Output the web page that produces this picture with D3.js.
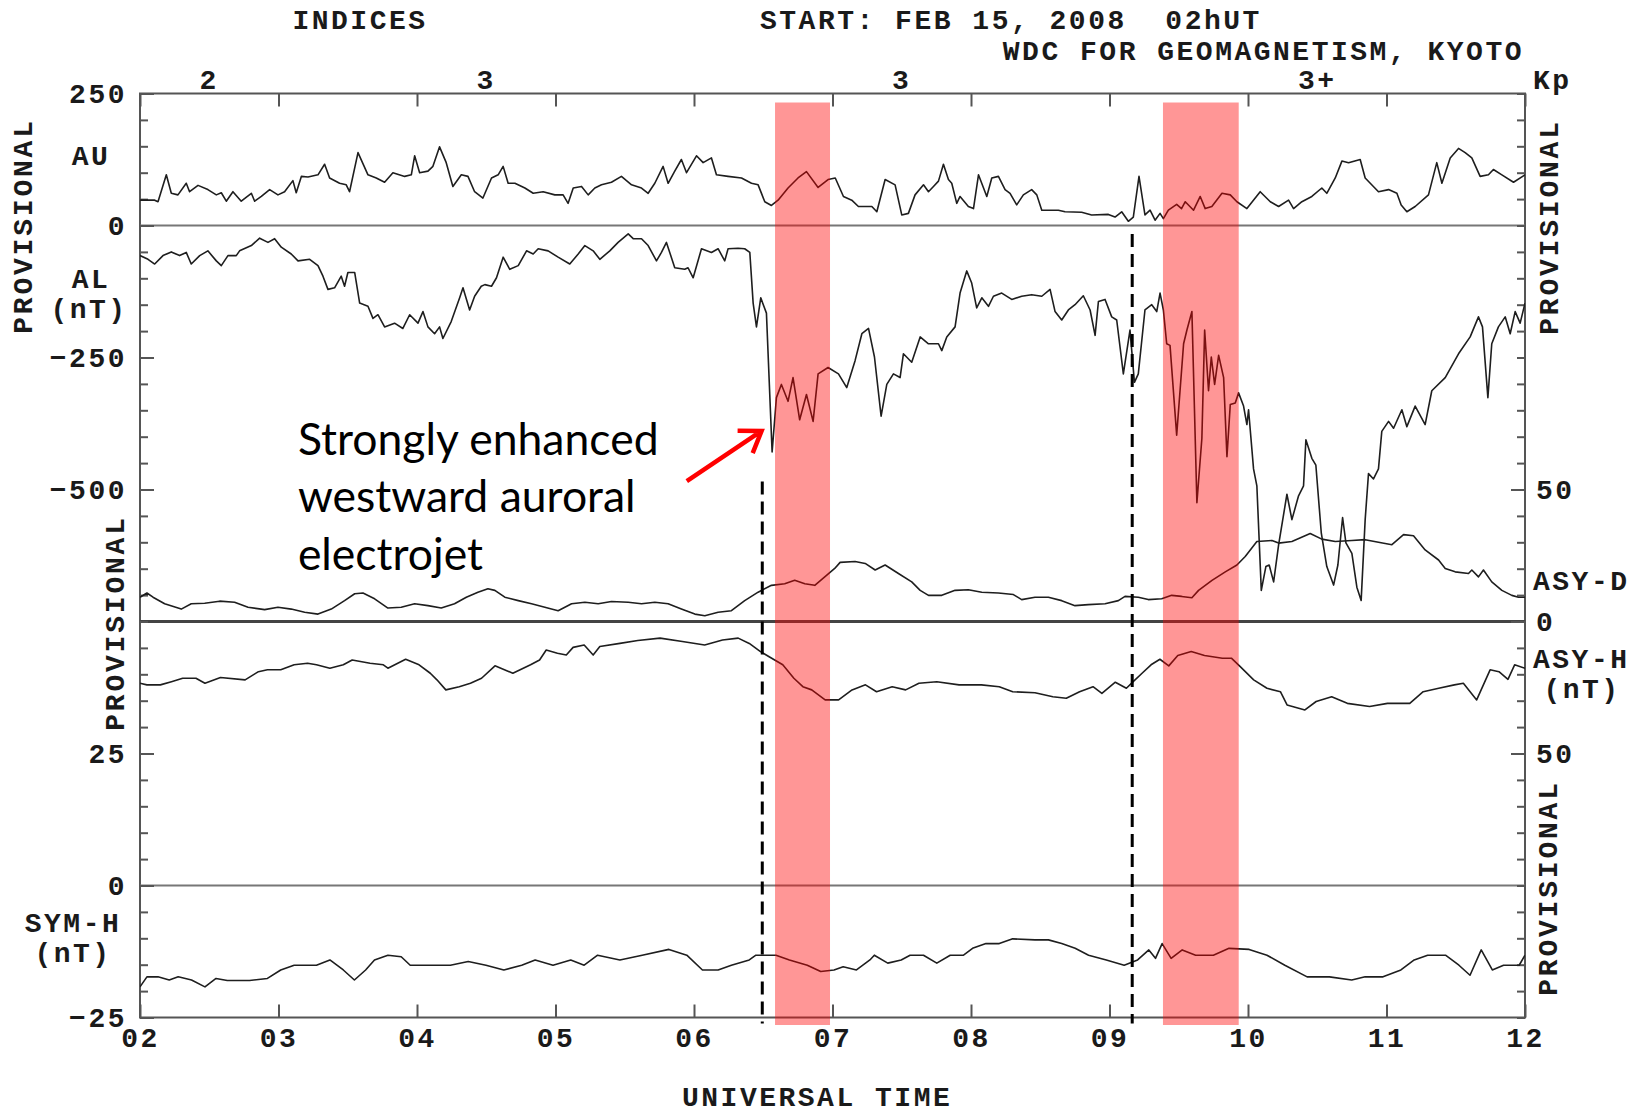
<!DOCTYPE html>
<html>
<head>
<meta charset="utf-8">
<script src="https://cdn.jsdelivr.net/npm/d3@7"></script>
<style>
  html, body { margin: 0; padding: 0; background: #fff; }
  svg { display: block; }
</style>
</head>
<body>
<svg id="chart"></svg>
<script>
// hours UT on the x axis, Kp per 3-hour interval
const HOURS = d3.range(2, 13);
const KP = [
  { from: 0, to: 3, label: '2' },
  { from: 3, to: 6, label: '3' },
  { from: 6, to: 9, label: '3' },
  { from: 9, to: 12, label: '3+' },
];

// [hour, nT]
const AU = [[2.0,48],[2.106,48],[2.13,45],[2.19,96],[2.226,61],[2.274,58],[2.334,80],[2.358,64],[2.419,76],[2.49,68],[2.551,58],[2.587,62],[2.623,46],[2.671,64],[2.731,46],[2.804,61],[2.828,46],[2.876,55],[2.936,68],[2.996,58],[3.044,64],[3.104,85],[3.128,62],[3.165,93],[3.213,92],[3.285,96],[3.333,116],[3.369,90],[3.441,80],[3.489,77],[3.513,64],[3.574,138],[3.646,96],[3.706,90],[3.766,82],[3.826,100],[3.911,93],[3.959,96],[3.983,132],[4.019,100],[4.079,103],[4.115,112],[4.163,149],[4.211,119],[4.259,74],[4.32,96],[4.368,93],[4.416,64],[4.476,52],
  [4.538,90],[4.586,96],[4.622,112],[4.658,80],[4.707,80],[4.779,71],[4.839,61],[4.911,64],[4.995,58],[5.055,58],[5.091,42],[5.128,71],[5.188,74],[5.236,58],[5.284,71],[5.332,77],[5.404,82],[5.476,93],[5.549,77],[5.621,71],[5.669,61],[5.717,80],[5.777,112],[5.813,80],[5.861,103],[5.909,125],[5.946,100],[6.018,132],[6.066,119],[6.126,128],[6.162,96],[6.246,93],[6.343,90],[6.415,80],[6.463,77],[6.511,45],[6.559,38],[6.607,48],[6.679,71],[6.751,90],[6.812,102],[6.896,72],[6.968,87],
  [7.02,90],[7.079,55],[7.139,48],[7.187,36],[7.284,36],[7.32,26],[7.38,87],[7.452,77],[7.5,20],[7.548,23],[7.596,58],[7.657,77],[7.693,64],[7.729,74],[7.765,84],[7.801,116],[7.837,87],[7.861,80],[7.897,42],[7.921,55],[7.981,36],[8.018,32],[8.054,96],[8.114,55],[8.15,90],[8.198,93],[8.246,68],[8.282,61],[8.33,39],[8.378,58],[8.438,68],[8.475,58],[8.511,29],[8.631,29],[8.679,26],[8.799,25],[8.871,20],[8.992,21],[9.04,16],[9.088,26],[9.136,8],[9.172,16],[9.213,93],[9.256,20],[9.293,29],[9.329,10],[9.365,23],[9.389,13],[9.425,29],[9.485,40],
  [9.52,32],[9.547,45],[9.607,29],[9.655,55],[9.691,32],[9.739,36],[9.812,61],[9.872,58],[9.92,45],[9.992,32],[10.088,64],[10.161,45],[10.221,36],[10.293,48],[10.329,32],[10.389,45],[10.461,55],[10.533,71],[10.569,61],[10.63,90],[10.678,122],[10.726,119],[10.81,125],[10.846,90],[10.942,64],[11.015,68],[11.075,61],[11.106,39],[11.147,26],[11.207,36],[11.303,58],[11.363,119],[11.4,80],[11.46,128],[11.52,146],[11.568,138],[11.616,128],[11.676,93],[11.736,96],[11.772,106],[11.833,96],[11.917,82],[12.0,96]];

const AL = [[2.0,-57],[2.058,-64],[2.106,-73],[2.166,-57],[2.226,-50],[2.286,-57],[2.334,-51],[2.37,-73],[2.431,-57],[2.49,-48],[2.551,-67],[2.587,-76],[2.635,-57],[2.695,-57],[2.719,-48],[2.804,-38],[2.864,-24],[2.924,-32],[2.972,-25],[3.02,-41],[3.092,-54],[3.141,-67],[3.225,-64],[3.285,-76],[3.321,-96],[3.357,-121],[3.405,-118],[3.453,-96],[3.477,-115],[3.501,-89],[3.55,-89],[3.586,-147],[3.646,-153],[3.682,-176],[3.718,-169],[3.766,-192],[3.838,-185],[3.898,-195],[3.947,-169],[4.007,-185],[4.043,-163],[4.079,-192],[4.127,-205],[4.163,-192],[4.187,-214],[4.247,-182],[4.308,-137],[4.332,-118],[4.38,-160],[4.416,-134],[4.464,-115],
  [4.49,-112],[4.538,-115],[4.574,-99],[4.622,-60],[4.67,-83],[4.731,-76],[4.791,-48],[4.839,-54],[4.875,-44],[4.947,-48],[5.019,-60],[5.103,-73],[5.164,-54],[5.212,-38],[5.272,-48],[5.32,-64],[5.392,-48],[5.452,-32],[5.525,-16],[5.561,-25],[5.621,-25],[5.669,-38],[5.729,-67],[5.765,-51],[5.801,-32],[5.861,-80],[5.933,-83],[5.957,-80],[5.994,-99],[6.054,-44],[6.126,-51],[6.174,-44],[6.222,-67],[6.246,-44],[6.318,-43],[6.366,-44],[6.403,-51],[6.427,-147],[6.451,-192],[6.482,-137],[6.523,-166],[6.564,-429],[6.595,-326],[6.631,-301],[6.679,-333],[6.715,-288],[6.763,-368],[6.812,-320],[6.86,-371],[6.896,-281],[6.968,-269],
  [7.043,-281],[7.103,-307],[7.163,-256],[7.212,-205],[7.26,-195],[7.303,-249],[7.351,-361],[7.392,-301],[7.44,-281],[7.488,-288],[7.512,-243],[7.572,-259],[7.633,-211],[7.693,-224],[7.765,-224],[7.789,-237],[7.825,-211],[7.885,-192],[7.921,-128],[7.969,-86],[8.005,-109],[8.041,-156],[8.078,-137],[8.126,-153],[8.162,-134],[8.222,-128],[8.294,-140],[8.366,-134],[8.438,-131],[8.511,-134],[8.571,-121],[8.607,-163],[8.655,-179],[8.703,-160],[8.751,-150],[8.811,-133],[8.86,-160],[8.896,-208],[8.92,-144],[8.968,-140],[9.016,-173],[9.052,-179],[9.1,-281],[9.148,-198],[9.18,-297],[9.208,-281],[9.256,-160],[9.305,-150],[9.341,-163],[9.365,-128],[9.389,-160],[9.413,-224],[9.437,-227],[9.485,-397],
  [9.535,-224],[9.559,-198],[9.595,-163],[9.631,-525],[9.667,-403],[9.687,-198],[9.715,-313],[9.735,-249],[9.759,-301],[9.788,-246],[9.824,-288],[9.848,-438],[9.872,-339],[9.908,-336],[9.932,-317],[9.968,-342],[9.992,-377],[10.004,-349],[10.04,-461],[10.064,-493],[10.096,-691],[10.129,-646],[10.153,-643],[10.185,-675],[10.221,-605],[10.281,-509],[10.317,-557],[10.365,-512],[10.401,-493],[10.418,-406],[10.461,-441],[10.49,-454],[10.529,-582],[10.569,-646],[10.618,-681],[10.649,-643],[10.683,-553],[10.707,-601],[10.75,-621],[10.786,-685],[10.817,-710],[10.846,-557],[10.87,-470],[10.906,-480],[10.942,-461],[10.966,-390],[11.015,-371],[11.051,-384],[11.111,-349],[11.147,-381],[11.207,-342],[11.279,-377],[11.327,-313],[11.424,-288],[11.52,-243],[11.604,-211],[11.664,-173],[11.693,-192],[11.732,-326],[11.76,-224],[11.808,-192],[11.857,-173],[11.893,-205],[11.929,-163],[11.965,-185],[12.0,-147]];

const ASY_D = [[2.0,9.2],[2.05,10.8],[2.094,9.2],[2.178,6.7],[2.298,4.7],[2.37,6.7],[2.467,6.9],[2.575,7.7],[2.683,7.3],[2.78,5.4],[2.9,4.5],[2.996,5.4],[3.092,4.7],[3.189,3.5],[3.285,2.8],[3.381,4.7],[3.477,7.9],[3.55,10.5],[3.61,10.8],[3.694,8.6],[3.79,5.1],[3.886,5.4],[3.983,6.7],[4.079,6.0],[4.175,5.1],[4.271,6.7],[4.356,9.2],[4.44,11.1],[4.512,12.4],
  [4.562,11.8],[4.634,9.2],[4.731,7.9],[4.827,6.7],[4.923,5.4],[5.019,4.1],[5.116,6.7],[5.212,7.3],[5.308,6.7],[5.404,7.6],[5.525,7.3],[5.621,6.7],[5.717,7.3],[5.813,6.7],[5.909,4.7],[6.006,2.8],[6.078,2.2],[6.174,3.5],[6.27,4.1],[6.366,7.9],[6.463,11.1],[6.559,13.7],[6.655,14.3],[6.727,15.6],[6.8,14.3],[6.872,13.7],[6.944,16.9],[7.016,20.1],
  [7.055,22.4],[7.163,22.7],[7.236,22.0],[7.308,19.5],[7.38,21.4],[7.476,18.2],[7.572,15.0],[7.633,11.8],[7.693,9.9],[7.789,9.9],[7.885,11.8],[7.981,12.0],[8.078,11.1],[8.198,10.8],[8.306,10.2],[8.366,8.3],[8.462,9.2],[8.559,9.2],[8.655,7.9],[8.751,6.0],[8.847,6.4],[8.968,6.7],[9.064,7.9],[9.112,9.5],[9.208,9.2],[9.28,8.3],[9.377,8.6],[9.449,9.9],[9.521,9.5],
  [9.595,9.0],[9.643,11.8],[9.74,15.6],[9.836,18.8],[9.92,21.4],[9.98,24.6],[10.064,30.3],[10.173,30.7],[10.221,29.7],[10.317,30.3],[10.449,33.3],[10.533,31.2],[10.63,30.3],[10.75,30.7],[10.846,31.0],[10.942,30.0],[11.039,29.1],[11.123,32.9],[11.195,32.5],[11.279,27.1],[11.376,23.3],[11.424,20.1],[11.496,18.8],[11.592,18.2],[11.616,19.5],[11.664,16.9],[11.7,19.5],[11.76,15.0],[11.833,11.8],[11.905,9.9],[11.953,9.2],[12.0,9.2]];

const ASY_H = [[2.0,76.6],[2.05,76.0],[2.147,76.0],[2.227,77.2],[2.308,78.5],[2.404,78.5],[2.469,76.6],[2.581,78.8],[2.759,77.9],[2.855,81.0],[2.92,81.7],[3.016,81.7],[3.113,83.6],[3.21,84.2],[3.274,83.6],[3.371,82.3],[3.468,83.6],[3.532,85.4],[3.661,84.2],[3.757,83.6],[3.79,82.3],[3.918,85.7],[4.015,83.6],[4.096,80.4],[4.144,77.9],[4.208,74.1],[4.305,75.3],[4.386,76.6],[4.466,78.5],[4.563,83.2],[4.692,80.4],[4.82,83.6],[4.885,85.4],[4.933,89.2],[5.014,88.0],[5.078,87.3],[5.127,90.2],[5.207,91.1],[5.272,87.3],[5.32,90.5],[5.465,91.7],[5.594,92.8],[5.755,93.7],[5.916,92.4],[6.077,91.1],[6.206,93.0],[6.319,93.7],[6.399,91.7],[6.48,88.6],[6.561,86.1],[6.641,83.6],[6.721,78.5],[6.786,75.3],[6.85,74.1],[6.947,70.3],
  [7.044,70.3],[7.141,74.1],[7.238,76.0],[7.318,73.4],[7.431,75.3],[7.528,74.1],[7.624,76.6],[7.753,77.2],[7.914,76.0],[8.075,76.0],[8.204,75.3],[8.301,73.4],[8.462,73.0],[8.591,71.5],[8.688,70.9],[8.784,73.4],[8.881,75.3],[8.945,72.8],[9.042,77.0],[9.122,74.7],[9.171,77.2],[9.235,80.4],[9.3,83.6],[9.364,85.7],[9.428,83.2],[9.493,87.1],[9.59,88.6],[9.686,87.1],[9.815,86.1],[9.88,86.1],[9.944,82.9],[10.041,77.9],[10.137,74.7],[10.234,73.4],[10.282,68.4],[10.411,66.5],[10.492,69.7],[10.604,71.5],[10.717,69.0],[10.878,67.8],[11.007,69.0],[11.168,69.0],[11.265,73.4],[11.377,74.7],[11.49,76.0],[11.555,76.6],[11.651,70.3],[11.748,81.7],[11.812,81.0],[11.877,78.1],[11.925,83.6],[12.0,82.3]];

const SYM_H = [[2.0,-19.2],[2.05,-17.3],[2.13,-17.3],[2.211,-17.9],[2.276,-17.3],[2.372,-17.9],[2.469,-19.2],[2.549,-17.6],[2.63,-18.0],[2.791,-18.0],[2.92,-17.6],[3.016,-16.0],[3.113,-15.1],[3.274,-15.1],[3.371,-14.1],[3.468,-16.0],[3.548,-17.9],[3.629,-16.0],[3.693,-14.1],[3.79,-13.2],[3.886,-13.5],[3.951,-15.1],[4.08,-15.1],[4.241,-15.1],[4.37,-14.4],[4.498,-15.1],[4.627,-16.0],[4.756,-15.1],[4.853,-14.1],[4.982,-15.1],[5.11,-14.1],[5.207,-15.1],[5.304,-13.2],[5.465,-14.1],[5.626,-13.2],[5.819,-12.1],[5.948,-13.2],[6.061,-16.0],[6.174,-16.0],[6.27,-15.1],[6.399,-14.1],[6.447,-13.2],[6.592,-13.2],[6.689,-14.1],[6.818,-15.1],[6.915,-16.3],[7.011,-16.0],
  [7.077,-15.4],[7.173,-16.0],[7.27,-14.1],[7.302,-13.2],[7.399,-14.7],[7.496,-14.1],[7.56,-13.2],[7.657,-13.2],[7.753,-14.7],[7.85,-13.2],[7.946,-13.2],[8.011,-11.9],[8.108,-11.0],[8.204,-11.0],[8.301,-10.1],[8.462,-10.3],[8.559,-10.3],[8.655,-11.0],[8.752,-11.9],[8.849,-13.2],[8.977,-14.1],[9.106,-15.1],[9.203,-14.1],[9.284,-12.2],[9.332,-13.8],[9.38,-11.0],[9.445,-13.8],[9.525,-12.2],[9.622,-13.2],[9.75,-13.2],[9.863,-11.9],[10.008,-12.1],[10.137,-13.2],[10.266,-15.1],[10.427,-17.3],[10.588,-17.3],[10.749,-17.9],[10.846,-17.3],[10.975,-17.3],[11.104,-16.0],[11.2,-14.1],[11.297,-13.2],[11.426,-13.2],[11.523,-15.1],[11.603,-17.0],[11.684,-12.2],[11.764,-16.0],[11.845,-15.1],[11.958,-15.1],[12.0,-13.2]];

// highlighted intervals and onset markers (hours UT)
const BANDS = [[6.585, 6.982], [9.386, 9.933]];
const ONSETS = [{ t: 6.493, top: -485 }, { t: 9.164, top: -16 }];
const NOTE = ['Strongly enhanced', 'westward auroral', 'electrojet'];

const W = 1646, H = 1114;
const pLeft = 140, pRight = 1525, pTop = 93.5, pSplit = 621.5, pBottom = 1017.5;
const MONO = '"Liberation Mono", "DejaVu Sans Mono", monospace';
const INK = '#1a1a1a';

const svg = d3.select('#chart').attr('width', W).attr('height', H);

const x = d3.scaleLinear().domain([2, 12]).range([pLeft, pRight]);
const yAE = d3.scaleLinear().domain([-750, 250]).range([pSplit, pTop]);
const yAsyD = d3.scaleLinear().domain([0, 200]).range([pSplit, pTop]);
const yAsyH = d3.scaleLinear().domain([-50, 100]).range([pBottom, pSplit]);
const ySym = d3.scaleLinear().domain([-25, 50]).range([pBottom, pSplit]);

function monoText(sel) {
  return sel.attr('font-family', MONO).attr('font-weight', 'bold')
    .attr('font-size', 28).attr('letter-spacing', 2.5).attr('fill', INK);
}

function styleAxis(g, labels) {
  g.select('.domain').remove();
  g.selectAll('.tick line').attr('stroke', '#555').attr('stroke-width', 2);
  if (labels) {
    monoText(g.selectAll('.tick text'));
  } else {
    g.selectAll('.tick text').remove();
  }
}

// frame and zero lines
svg.append('rect')
  .attr('x', pLeft).attr('y', pTop)
  .attr('width', pRight - pLeft).attr('height', pBottom - pTop)
  .attr('fill', 'none').attr('stroke', '#555').attr('stroke-width', 2);

svg.append('line').attr('x1', pLeft).attr('x2', pRight)
  .attr('y1', yAE(0)).attr('y2', yAE(0))
  .attr('stroke', '#777').attr('stroke-width', 2);
svg.append('line').attr('x1', pLeft).attr('x2', pRight)
  .attr('y1', yAsyD(0)).attr('y2', yAsyD(0))
  .attr('stroke', '#444').attr('stroke-width', 3);
svg.append('line').attr('x1', pLeft).attr('x2', pRight)
  .attr('y1', ySym(0)).attr('y2', ySym(0))
  .attr('stroke', '#777').attr('stroke-width', 2);

// minor ticks
svg.append('g').attr('transform', `translate(${pLeft},0)`)
  .call(d3.axisRight(yAE).tickValues(d3.range(-750, 251, 50)).tickSize(8))
  .call(g => styleAxis(g, false));
svg.append('g').attr('transform', `translate(${pLeft},0)`)
  .call(d3.axisRight(ySym).tickValues(d3.range(-25, 51, 5)).tickSize(8))
  .call(g => styleAxis(g, false));
svg.append('g').attr('transform', `translate(${pRight},0)`)
  .call(d3.axisLeft(yAsyD).tickValues(d3.range(0, 201, 10)).tickSize(8))
  .call(g => styleAxis(g, false));
svg.append('g').attr('transform', `translate(${pRight},0)`)
  .call(d3.axisLeft(yAsyH).tickValues(d3.range(-50, 101, 10)).tickSize(8))
  .call(g => styleAxis(g, false));

// labelled ticks
svg.append('g').attr('transform', `translate(${pLeft},0)`)
  .call(d3.axisLeft(yAE).tickValues([250, 0, -250, -500]).tickSizeInner(-14).tickSizeOuter(0).tickPadding(13))
  .call(g => styleAxis(g, true));
svg.append('g').attr('transform', `translate(${pLeft},0)`)
  .call(d3.axisLeft(ySym).tickValues([25, 0, -25]).tickSizeInner(-14).tickSizeOuter(0).tickPadding(13))
  .call(g => styleAxis(g, true));
svg.append('g').attr('transform', `translate(${pRight},0)`)
  .call(d3.axisRight(yAsyD).tickValues([50, 0]).tickSizeInner(-14).tickSizeOuter(0).tickPadding(11))
  .call(g => styleAxis(g, true));
svg.append('g').attr('transform', `translate(${pRight},0)`)
  .call(d3.axisRight(yAsyH).tickValues([50]).tickSizeInner(-14).tickSizeOuter(0).tickPadding(11))
  .call(g => styleAxis(g, true));

svg.append('g').attr('transform', `translate(0,${pTop})`)
  .call(d3.axisTop(x).tickValues(HOURS).tickSizeInner(-13).tickSizeOuter(0))
  .call(g => styleAxis(g, false));
svg.append('g').attr('transform', `translate(0,${pBottom})`)
  .call(d3.axisBottom(x).tickValues(HOURS).tickSizeInner(-13).tickSizeOuter(0).tickPadding(10)
    .tickFormat(d3.format('02d')))
  .call(g => styleAxis(g, true));

// data curves
svg.append('clipPath').attr('id', 'plot-clip')
  .append('rect').attr('x', pLeft).attr('y', pTop)
  .attr('width', pRight - pLeft).attr('height', pBottom - pTop);

const curves = [
  { data: AU, y: yAE },
  { data: AL, y: yAE },
  { data: ASY_D, y: yAsyD },
  { data: ASY_H, y: yAsyH },
  { data: SYM_H, y: ySym },
];
const plot = svg.append('g').attr('clip-path', 'url(#plot-clip)');
curves.forEach(c => {
  plot.append('path')
    .attr('d', d3.line().x(d => x(d[0])).y(d => c.y(d[1]))(c.data))
    .attr('fill', 'none')
    .attr('stroke', '#1e1e1e')
    .attr('stroke-width', 1.6)
    .attr('stroke-linejoin', 'round');
});

// highlighted intervals
svg.selectAll('.band')
  .data(BANDS)
  .enter()
  .append('rect')
  .attr('class', 'band')
  .attr('x', d => x(d[0]))
  .attr('width', d => x(d[1]) - x(d[0]))
  .attr('y', pTop + 9)
  .attr('height', pBottom + 7.5 - (pTop + 9))
  .attr('fill', 'rgb(255,0,0)')
  .attr('fill-opacity', 0.41);

// onset markers
svg.selectAll('.onset')
  .data(ONSETS)
  .enter()
  .append('line')
  .attr('class', 'onset')
  .attr('x1', d => x(d.t)).attr('x2', d => x(d.t))
  .attr('y1', d => yAE(d.top)).attr('y2', pBottom + 6)
  .attr('stroke', '#000').attr('stroke-width', 3)
  .attr('stroke-dasharray', '13,7');

// annotation
svg.selectAll('.note')
  .data(NOTE)
  .enter()
  .append('text')
  .attr('class', 'note')
  .attr('x', x(3.14))
  .attr('y', (d, i) => yAE(-434) + i * 57.5)
  .attr('font-family', 'Lato, "Open Sans", sans-serif')
  .attr('font-size', 44.5)
  .attr('fill', '#000')
  .text(d => d);

const a0 = [x(5.948), yAE(-484)];
const a1 = [x(6.488), yAE(-389)];
const ang = Math.atan2(a1[1] - a0[1], a1[0] - a0[0]);
const headLen = 24, headAng = 0.6;
svg.append('path')
  .attr('d', `M${a0[0]},${a0[1]}L${a1[0]},${a1[1]}` +
    `M${a1[0] - headLen * Math.cos(ang - headAng)},${a1[1] - headLen * Math.sin(ang - headAng)}` +
    `L${a1[0]},${a1[1]}` +
    `L${a1[0] - headLen * Math.cos(ang + headAng)},${a1[1] - headLen * Math.sin(ang + headAng)}`)
  .attr('fill', 'none').attr('stroke', '#ff0000').attr('stroke-width', 4.5)
  .attr('stroke-linejoin', 'miter');

// header, Kp and panel labels
monoText(svg.append('text')).attr('x', 360).attr('y', 29).attr('text-anchor', 'middle').text('INDICES');
monoText(svg.append('text')).attr('x', 760).attr('y', 29).style('white-space', 'pre')
  .text('START: FEB 15, 2008  02hUT');
monoText(svg.append('text')).attr('x', 1524).attr('y', 60).attr('text-anchor', 'end')
  .text('WDC FOR GEOMAGNETISM, KYOTO');

svg.selectAll('.kp')
  .data(KP)
  .enter()
  .append('text')
  .attr('class', 'kp')
  .call(monoText)
  .attr('x', d => x((Math.max(d.from, 2) + Math.min(d.to, 12)) / 2))
  .attr('y', 89)
  .attr('text-anchor', 'middle')
  .text(d => d.label);
monoText(svg.append('text')).attr('x', 1533).attr('y', 89).text('Kp');

const panelLabels = [
  { text: 'AU', x: 91, y: 165, anchor: 'middle' },
  { text: 'AL', x: 91, y: 288, anchor: 'middle' },
  { text: '(nT)', x: 89, y: 318, anchor: 'middle' },
  { text: 'SYM-H', x: 73, y: 932, anchor: 'middle' },
  { text: '(nT)', x: 73, y: 962, anchor: 'middle' },
  { text: 'ASY-D', x: 1533, y: 590, anchor: 'start' },
  { text: 'ASY-H', x: 1533, y: 668, anchor: 'start' },
  { text: '(nT)', x: 1582, y: 698, anchor: 'middle' },
  { text: 'UNIVERSAL TIME', x: 682, y: 1106, anchor: 'start' },
];
svg.selectAll('.plabel')
  .data(panelLabels)
  .enter()
  .append('text')
  .attr('class', 'plabel')
  .call(monoText)
  .attr('x', d => d.x).attr('y', d => d.y)
  .attr('text-anchor', d => d.anchor)
  .text(d => d.text);

const provisional = [[24, 226], [116, 623], [1550, 227], [1549, 888]];
svg.selectAll('.prov')
  .data(provisional)
  .enter()
  .append('text')
  .attr('class', 'prov')
  .call(monoText)
  .attr('letter-spacing', 2.8)
  .attr('transform', d => `translate(${d[0]},${d[1]}) rotate(-90)`)
  .attr('text-anchor', 'middle')
  .attr('dominant-baseline', 'central')
  .text('PROVISIONAL');
</script>
</body>
</html>
